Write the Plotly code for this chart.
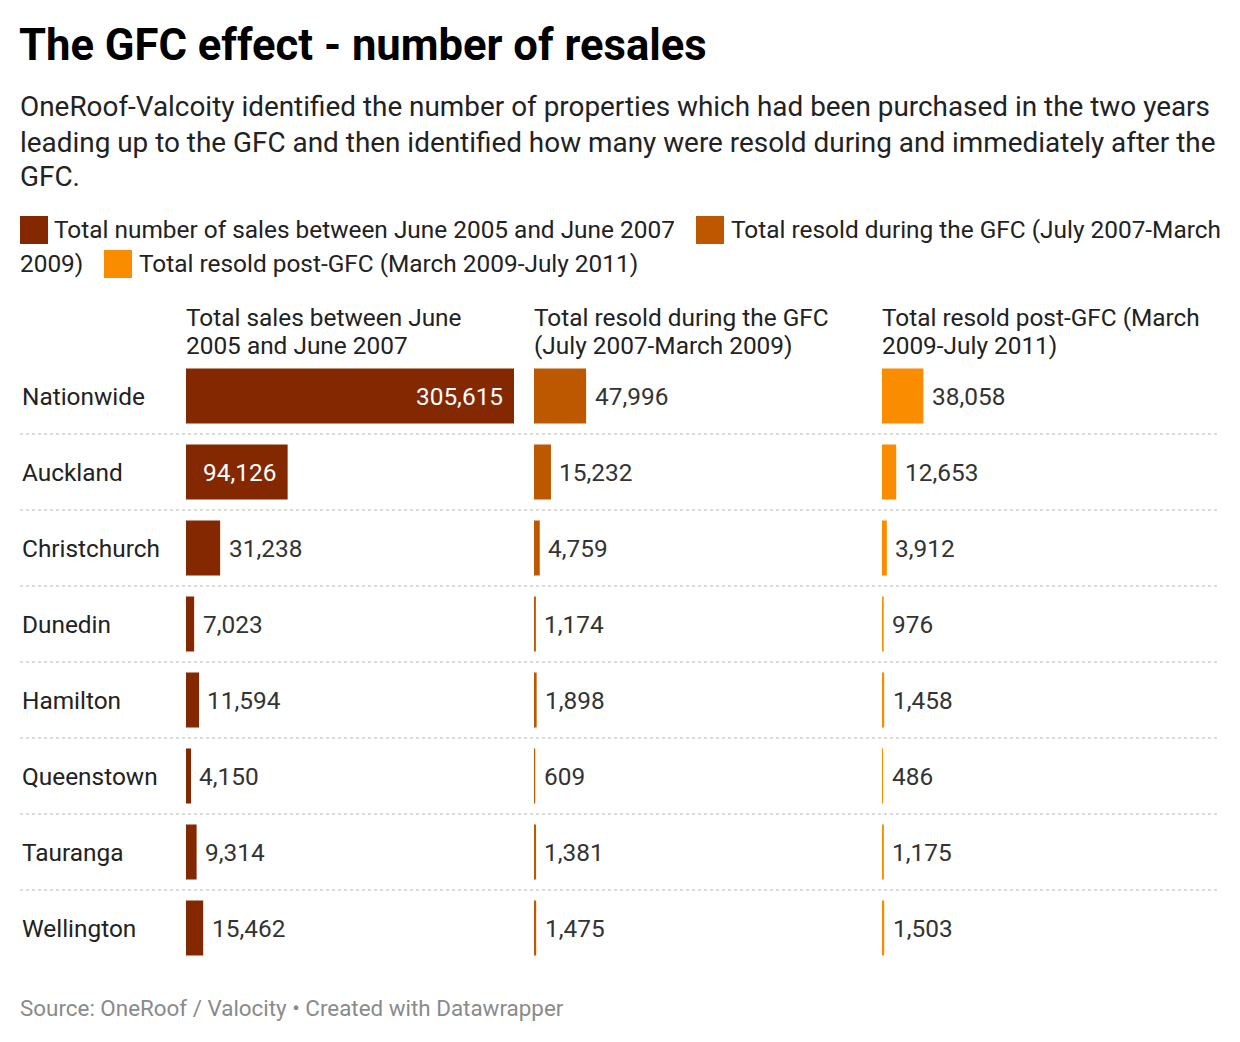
import plotly.graph_objects as go

# ---------------- data ----------------
regions = ["Nationwide", "Auckland", "Christchurch", "Dunedin", "Hamilton",
           "Queenstown", "Tauranga", "Wellington"]
total_sales = [305615, 94126, 31238, 7023, 11594, 4150, 9314, 15462]
resold_gfc = [47996, 15232, 4759, 1174, 1898, 609, 1381, 1475]
resold_post = [38058, 12653, 3912, 976, 1458, 486, 1175, 1503]

column_titles = [
    ["Total sales between June", "2005 and June 2007"],
    ["Total resold during the GFC", "(July 2007-March 2009)"],
    ["Total resold post-GFC (March", "2009-July 2011)"],
]
legend_names = [
    "Total number of sales between June 2005 and June 2007",
    "Total resold during the GFC (July 2007-March 2009)",
    "Total resold post-GFC (March 2009-July 2011)",
]
colors = ["#832800", "#bd5800", "#fa8c00"]

title = "The GFC effect - number of resales"
subtitle_lines = [
    "OneRoof-Valcoity identified the number of properties which had been purchased in the two years",
    "leading up to the GFC and then identified how many were resold during and immediately after the",
    "GFC.",
]
source = "Source: OneRoof / Valocity \u2022 Created with Datawrapper"

# ---------------- layout helpers ----------------
W, H = 1240, 1042
FONT = "Roboto, 'Noto Sans', sans-serif"
BODY = 24.4


def px(x):
    return x / W


def py(y):
    return 1 - y / H


series = [total_sales, resold_gfc, resold_post]
col_left = [186, 534, 882]
col_w = 328
xmax = max(total_sales)
axis_names = ["x", "x2", "x3"]

fig = go.Figure()
for i, vals in enumerate(series):
    fig.add_trace(go.Bar(
        y=regions, x=vals, orientation="h",
        xaxis=axis_names[i], yaxis="y",
        marker=dict(color=colors[i], line=dict(color=colors[i], width=1.2)),
        width=0.71, name=legend_names[i], showlegend=False,
        hoverinfo="x+y",
    ))

annotations = []
shapes = []

# value labels
for i, vals in enumerate(series):
    for r, v in zip(regions, vals):
        bar_px = v / xmax * col_w
        label = f"{v:,}"
        inside = bar_px > len(label) * 13.5 + 20
        annotations.append(dict(
            x=v, y=r, xref=axis_names[i], yref="y",
            text=label, showarrow=False,
            xanchor="right" if inside else "left",
            xshift=-11 if inside else 9,
            yanchor="middle",
            borderpad=0, borderwidth=0,
            font=dict(family=FONT, size=BODY, color="#ffffff" if inside else "#333333"),
        ))

# row labels
for r in regions:
    annotations.append(dict(
        x=px(22), y=r, xref="paper", yref="y", text=r, showarrow=False,
        xanchor="left", yanchor="middle", borderpad=0, borderwidth=0,
        font=dict(family=FONT, size=BODY, color="#222222"),
    ))

# dotted separators
for k in range(len(regions) - 1):
    shapes.append(dict(
        type="line", xref="paper", yref="y",
        x0=px(20), x1=px(1218), y0=k + 0.5, y1=k + 0.5,
        line=dict(color="#cfcfcf", width=1.5, dash="dot"),
    ))

# column headers
for i, lines in enumerate(column_titles):
    for j, t in enumerate(lines):
        annotations.append(dict(
            x=px(col_left[i]), y=py(317.5 + 28 * j), xref="paper", yref="paper",
            text=t, showarrow=False, xanchor="left", yanchor="middle",
            borderpad=0, borderwidth=0,
            font=dict(family=FONT, size=BODY, color="#222222"),
        ))

# title & subtitle
annotations.append(dict(
    x=px(19), y=py(45.5), xref="paper", yref="paper", text=f"<b>{title}</b>",
    showarrow=False, xanchor="left", yanchor="middle", borderpad=0, borderwidth=0,
    font=dict(family=FONT, size=43.6, color="#000000"),
))
for j, t in enumerate(subtitle_lines):
    annotations.append(dict(
        x=px(20), y=py(107 + 35 * j), xref="paper", yref="paper", text=t,
        showarrow=False, xanchor="left", yanchor="middle", borderpad=0, borderwidth=0,
        font=dict(family=FONT, size=27.9, color="#222222"),
    ))

# legend (wrapped like the original)
legend_items = [
    (20, 216, 54, 229.5, legend_names[0], colors[0]),
    (696, 216, 731, 229.5, "Total resold during the GFC (July 2007-March", colors[1]),
    (104, 250, 139, 263.5, legend_names[2], colors[2]),
]
for sx, sy, tx, ty, t, c in legend_items:
    shapes.append(dict(type="rect", xref="paper", yref="paper",
                       x0=px(sx), x1=px(sx + 28), y0=py(sy), y1=py(sy + 28),
                       fillcolor=c, line=dict(width=0)))
    annotations.append(dict(
        x=px(tx), y=py(ty), xref="paper", yref="paper", text=t, showarrow=False,
        xanchor="left", yanchor="middle", borderpad=0, borderwidth=0,
        font=dict(family=FONT, size=BODY, color="#222222"),
    ))
annotations.append(dict(
    x=px(20), y=py(263.5), xref="paper", yref="paper", text="2009)", showarrow=False,
    xanchor="left", yanchor="middle", borderpad=0, borderwidth=0,
    font=dict(family=FONT, size=BODY, color="#222222"),
))

# source
annotations.append(dict(
    x=px(20), y=py(1008), xref="paper", yref="paper", text=source, showarrow=False,
    xanchor="left", yanchor="middle", borderpad=0, borderwidth=0,
    font=dict(family=FONT, size=22.4, color="#8a8a8a"),
))

axis_common = dict(range=[0, xmax], showgrid=False, zeroline=False,
                   showticklabels=False, showline=False, ticks="", fixedrange=True)

fig.update_layout(
    width=W, height=H,
    margin=dict(l=0, r=0, t=0, b=0),
    paper_bgcolor="#ffffff", plot_bgcolor="rgba(0,0,0,0)",
    font=dict(family=FONT),
    barmode="overlay",
    xaxis=dict(domain=[px(col_left[0]), px(col_left[0] + col_w)], anchor="y", **axis_common),
    xaxis2=dict(domain=[px(col_left[1]), px(col_left[1] + col_w)], anchor="y", **axis_common),
    xaxis3=dict(domain=[px(col_left[2]), px(col_left[2] + col_w)], anchor="y", **axis_common),
    yaxis=dict(domain=[py(966), py(358)], type="category", categoryarray=regions,
               range=[len(regions) - 0.5, -0.5], showgrid=False, zeroline=False,
               showticklabels=False, ticks="", fixedrange=True),
    annotations=annotations,
    shapes=shapes,
    showlegend=False,
)

fig.write_html("out.html")
